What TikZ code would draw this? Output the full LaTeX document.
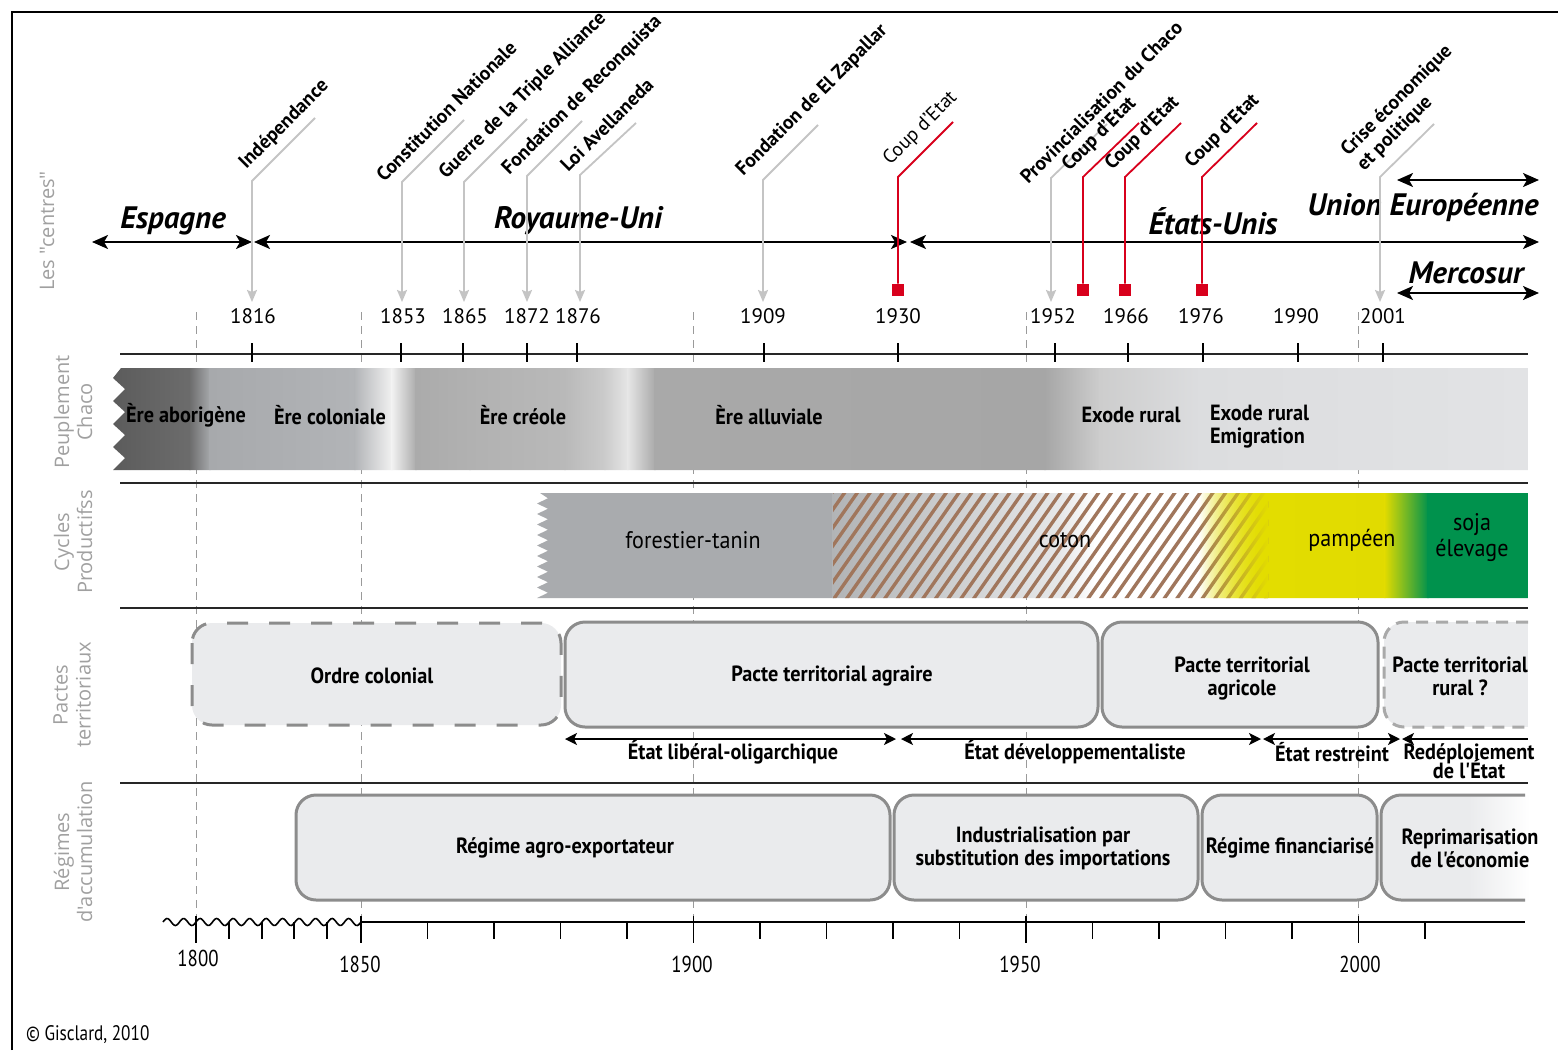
\documentclass[tikz,border=0pt]{standalone}
\usepackage{fontspec}
\setmainfont{PT Sans}
\newfontfamily\cond[FakeStretch=0.82]{PT Sans}
\newfontfamily\condw[FakeStretch=0.92]{PT Sans}
\newfontfamily\vlab{Open Sans}
\usetikzlibrary{arrows.meta,fadings}
\tikzfading[name=fadein, left color=transparent!100, right color=transparent!0]
\definecolor{evgray}{HTML}{C4C4C4}
\definecolor{evred}{HTML}{D8001C}
\definecolor{boxfill}{HTML}{EAEBED}
\definecolor{boxline}{HTML}{8C8C8C}
\definecolor{labgray}{HTML}{A0A0A0}
\definecolor{hatchbrown}{HTML}{A0765C}
\definecolor{dashgray}{HTML}{9A9A9A}
\definecolor{b0}{HTML}{5B5B5B}
\definecolor{b1}{HTML}{6C6C6C}
\definecolor{b2}{HTML}{A7A9AC}
\definecolor{b3}{HTML}{B2B4B7}
\definecolor{b4}{HTML}{F2F2F2}
\definecolor{b5}{HTML}{ABABAB}
\definecolor{b6}{HTML}{B1B1B1}
\definecolor{b7}{HTML}{B9B9B9}
\definecolor{b8}{HTML}{CBCBCB}
\definecolor{b9}{HTML}{E6E6E6}
\definecolor{b10}{HTML}{A9A9A9}
\definecolor{b11}{HTML}{A6A6A6}
\definecolor{b12}{HTML}{CDCDCD}
\definecolor{b13}{HTML}{DCDDDF}
\definecolor{b14}{HTML}{E2E3E5}
\definecolor{c0}{HTML}{A9ABAE}
\definecolor{c1}{HTML}{B2B4B6}
\definecolor{c2}{HTML}{E6E7E8}
\definecolor{c3}{HTML}{FFFFFF}
\definecolor{c4}{HTML}{E3DD00}
\definecolor{c5}{HTML}{E1DB00}
\definecolor{c6}{HTML}{00924D}
\tikzset{
  centre/.style={line width=1pt, >={Stealth[length=8pt,width=7pt,inset=2pt]}},
  bigit/.style={font=\fontsize{15.5}{17}\selectfont\bfseries\itshape},
  evline/.style={evgray, line width=0.9pt, -{Stealth[length=6pt,width=5pt,inset=1pt]}},
  redline/.style={evred, line width=0.9pt},
  redsq/.style={fill=evred, minimum size=6pt, inner sep=0pt},
  evlab/.style={rotate=45, anchor=base west, inner sep=0pt, font=\fontsize{9.8}{11}\selectfont\bfseries},
  evlabr/.style={evlab, font=\fontsize{9.8}{11}\selectfont},
  year/.style={font=\fontsize{10.5}{12}\selectfont},
  byear/.style={font=\cond\fontsize{11.5}{13}\selectfont},
  sepline/.style={line width=1.1pt, black!85},
  eralab/.style={font=\condw\bfseries\fontsize{11}{11.5}\selectfont, align=left},
  cyclab/.style={font=\condw\fontsize{12}{13}\selectfont, align=center},
  boxlab/.style={font=\condw\bfseries\fontsize{11}{11.5}\selectfont, align=center},
  vlabel/.style={rotate=90, text=labgray, align=center, font=\vlab\fontsize{10}{11.5}\selectfont},
  pbox/.style={draw=boxline, fill=boxfill, line width=1.5pt, rounded corners=10pt},
  dbox/.style={pbox, dash pattern=on 10.5pt off 10.5pt},
  statearr/.style={line width=0.75pt, >={Stealth[length=6pt,width=6pt,inset=1.5pt]}},
}
\begin{document}
\begin{tikzpicture}[x=0.5pt,y=-0.5pt]
\useasboundingbox (0,0) rectangle (1558,1050);
\fill[white] (0,0) rectangle (1558,1050);
% frame
\draw[line width=1pt] (12,1050) -- (12,12) -- (1558,12);

% dashed verticals
\foreach \x in {196,361,693,1026,1358}
  \draw[dashgray, line width=0.5pt, dash pattern=on 4pt off 3pt] (\x,312) -- (\x,922);

% ===== Band 1 : Peuplement =====
\begin{scope}
\clip (121,368) -- (1528,368) -- (1528,470) -- (113,470) -- (125,458) -- (113,447) -- (125,435) -- (113,424) -- (125,412) -- (113,401) -- (125,389) -- (113,378) -- (121,368) -- cycle;
\foreach \xa/\ca/\xb/\cb in {110/b0/190/b1, 190/b1/210/b2, 210/b2/355/b3, 355/b3/392/b4, 392/b4/416/b5, 416/b5/470/b6, 470/b6/565/b7, 565/b7/605/b8, 605/b8/628/b9, 628/b9/655/b10, 655/b10/1045/b11, 1045/b11/1100/b12, 1100/b12/1200/b13, 1200/b13/1530/b14}
  \shade[left color=\ca, right color=\cb] (\xa-0.6,360) rectangle (\xb+0.6,480);
\end{scope}
\node[eralab] (aborig) at (186,415) {Ère aborigène};
\node[eralab] (colon) at (330,415) {Ère coloniale};
\node[eralab] (creole) at (523,415) {Ère créole};
\node[eralab] (alluv) at (769,415) {Ère alluviale};
\node[eralab] (exode1) at (1131,415) {Exode rural};
\node[eralab, anchor=west] (exode2) at (1203,427) {Exode rural\\Emigration};

% ===== Band 2 : Cycles =====
\begin{scope}
\clip (540,493) -- (1528,493) -- (1528,598) -- (537,598) -- (548,592.75) -- (537,587.5) -- (548,582.25) -- (537,577) -- (548,571.75) -- (537,566.5) -- (548,561.25) -- (537,556) -- (548,550.75) -- (537,545.5) -- (548,540.25) -- (537,535) -- (548,529.75) -- (537,524.5) -- (548,519.25) -- (537,514) -- (548,508.75) -- (537,503.5) -- (548,498.25) -- (540,493) -- cycle;
\fill[c0] (530,485) rectangle (834,605);
\foreach \xa/\ca/\xb/\cb in {833/c1/1060/c2, 1060/c2/1095/c3, 1095/c3/1200/c3, 1200/c3/1265/c4, 1265/c4/1385/c5, 1385/c5/1428/c6, 1428/c6/1530/c6}
  \shade[left color=\ca, right color=\cb] (\xa-0.6,485) rectangle (\xb+0.6,605);
\begin{scope}
\clip (833,490) rectangle (1268,600);
\foreach \i in {-8,...,35}
  \draw[hatchbrown, line width=1.7pt] ({833+12.7*\i},600) -- ++(77,-110);
\end{scope}
\fill[c4, path fading=fadein] (1198,490) rectangle (1268,600);
\end{scope}
\node[cyclab] (forest) at (693,540) {forestier-tanin};
\node[cyclab] (coton) at (1065,540) {coton};
\node[cyclab] (pampa) at (1352,540) {pampéen};
\node[cyclab] (soja) at (1472,538) {soja\\élevage};

% ===== Band 3 : Pactes =====
\path[dbox] (192,623) rectangle (561,725);
\path[pbox] (565,622) rectangle (1098,727);
\path[pbox] (1102,622) rectangle (1378,727);
\fill[boxfill] (1400,622) rectangle (1528,727);
\fill[boxfill, rounded corners=10pt] (1384,622) rectangle (1430,727);
\draw[boxline!75, line width=1.5pt, dash pattern=on 6pt off 4pt, rounded corners=10pt] (1528,622) -- (1384,622) -- (1384,727) -- (1528,727);
\node[boxlab] (ordre) at (372,676) {Ordre colonial};
\node[boxlab] (agraire) at (832,676) {Pacte territorial agraire};
\node[boxlab] (agricole) at (1242,678) {Pacte territorial\\agricole};
\node[boxlab] (rural) at (1460,676) {Pacte territorial\\rural ?};

\coordinate (s1a) at (565,739); \coordinate (s1b) at (896,739);
\coordinate (s2a) at (901,739); \coordinate (s2b) at (1261,739);
\coordinate (s3a) at (1263,739); \coordinate (s3b) at (1400,739);
\coordinate (s4a) at (1402,739); \coordinate (s4b) at (1528,739);
\draw[statearr,<->] (s1a) -- (s1b);
\draw[statearr,<->] (s2a) -- (s2b);
\draw[statearr,<->] (s3a) -- (s3b);
\draw[statearr,<-] (s4a) -- (s4b);
\node[boxlab] (lib) at (733,752) {État libéral-oligarchique};
\node[boxlab] (dev) at (1075,752) {État développementaliste};
\node[boxlab] (restr) at (1332,752) {État restreint};
\node[boxlab] (redep) at (1469,761) {Redéploiement\\[-3.5pt]de l'État};

% ===== Band 4 : Régimes =====
\path[pbox] (296,795) rectangle (890,900);
\path[pbox] (894,795) rectangle (1198,900);
\path[pbox] (1202,795) rectangle (1377,900);
\fill[boxfill] (1400,795) rectangle (1470,900);
\fill[boxfill, rounded corners=10pt] (1381,795) rectangle (1430,900);
\shade[left color=boxfill, right color=white] (1469,795) rectangle (1530,900);
\draw[boxline, line width=1.5pt, rounded corners=10pt] (1525,795) -- (1381,795) -- (1381,900) -- (1525,900);
\node[boxlab] (agro) at (565,848) {Régime agro-exportateur};
\node[boxlab] (isi) at (1043,848) {Industrialisation par\\substitution des importations};
\node[boxlab] (fin) at (1290,848) {Régime financiarisé};
\node[boxlab] (repr) at (1470,848) {Reprimarisation\\de l'économie};

% ===== separators and axes =====
\draw[sepline] (120,354) -- (1528,354);
\draw[sepline] (120,483) -- (1528,483);
\draw[sepline] (120,608) -- (1528,608);
\draw[sepline] (120,783) -- (1528,783);
\foreach \x in {252,401,463,527,577,764,898,1055,1128,1203,1298,1383}
  \draw[line width=0.8pt] (\x,343) -- (\x,362);

% bottom axis
\draw[line width=1pt] (361,922) -- (1525,922);
\draw[line width=0.8pt, domain=0:198, samples=160, smooth, variable=\t] plot ({163+\t},{922-3.5*sin(\t*21.818)});
\foreach \x in {196,361,693.5,1026,1358.5}
  \draw[line width=0.8pt] (\x,916) -- (\x,943);
\foreach \x in {229,262,294,327,427.5,494,560.5,627,760,826.5,893,959.5,1092.5,1159,1225.5,1292,1425}
  \draw[line width=0.8pt] (\x,922) -- (\x,939);
\node[byear] (a1800) at (198,958) {1800};
\node[byear] (a1850) at (360,964) {1850};
\node[byear] (a1900) at (692,964) {1900};
\node[byear] (a1950) at (1020,964) {1950};
\node[byear] (a2000) at (1360,964) {2000};

% ===== years top =====
\foreach \n/\x in {1816/253,1853/403,1865/465,1872/527,1876/578,1909/763,1930/898,1952/1053,1966/1126,1976/1201,1990/1296,2001/1383}
  \node[year] (y\n) at (\x,316) {\n};

% ===== centres =====
\coordinate (esL) at (92,242); \coordinate (esR) at (252,242);
\coordinate (ruL) at (254,242); \coordinate (ruR) at (907,242);
\coordinate (usL) at (910,242); \coordinate (usR) at (1539,242);
\coordinate (ueL) at (1397,180); \coordinate (ueR) at (1539,180);
\coordinate (meL) at (1397,293); \coordinate (meR) at (1539,293);
\draw[centre,<->] (esL) -- (esR);
\draw[centre,<->] (ruL) -- (ruR);
\draw[centre,<->] (usL) -- (usR);
\draw[centre,<->] (ueL) -- (ueR);
\draw[centre,<->] (meL) -- (meR);
\node[bigit] (espagne) at (173,221) {Espagne};
\node[bigit] (ru) at (578,221) {Royaume-Uni};
\node[bigit] (us) at (1213,221) {États-Unis};
\node[bigit] (ue) at (1423,207) {Union Européenne};
\node[bigit] (merc) at (1466,273) {Mercosur};

% ===== events =====
\foreach \n/\x/\yt/\ex/\ey in {ind/252/181/315/118, con/402/182/464/120, gue/464/182/527/119, rec/527/176/582/121, ave/580/175/636/123, zap/763/180/818/125, pro/1051/178/1107/124, cri/1380/177/1434/124}{
  \coordinate (\n-t) at (\x,\yt);
  \coordinate (\n-e) at (\ex,\ey);
  \coordinate (\n-b) at (\x,302);
  \draw[evline] (\n-e) -- (\n-t) -- (\n-b);
}
\foreach \n/\x/\yt/\ex/\ey in {c30/898/177/953/122, c55/1083/177/1139/123, c66/1125/177/1181/123, c76/1202/177/1257/123}{
  \coordinate (\n-t) at (\x,\yt);
  \coordinate (\n-e) at (\ex,\ey);
  \node[redsq] (\n-sq) at (\x,290) {};
  \draw[redline] (\n-e) -- (\n-t) -- (\n-sq);
}
\node[evlab] (ind-l) at (246,170) {Indépendance};
\node[evlab] (con-l) at (384,183) {Constitution Nationale};
\node[evlab] (gue-l) at (446,180) {Guerre de la Triple Alliance};
\node[evlab] (rec-l) at (509,176) {Fondation de Reconquista};
\node[evlab] (ave-l) at (568,173) {Loi Avellaneda};
\node[evlab] (zap-l) at (743,177) {Fondation de El Zapallar};
\node[evlabr] (c30-l) at (890,166) {Coup d'Etat};
\node[evlab] (pro-l) at (1028,185) {Provincialisation du Chaco};
\node[evlab] (c55-l) at (1069,172) {Coup d'Etat};
\node[evlab] (c66-l) at (1112,171) {Coup d'Etat};
\node[evlab] (c76-l) at (1192,169) {Coup d'Etat};
\node[evlab] (cri-l1) at (1348,157) {Crise économique};
\node[evlab] (cri-l2) at (1364,172) {et politique};

% ===== vertical band labels =====
\node[vlabel] (lc) at (47,231) {Les "centres"};
\node[vlabel] (lp) at (73,412) {Peuplement\\Chaco};
\node[vlabel] (lcy) at (73,542) {Cycles\\Productifss};
\node[vlabel] (lpa) at (72,695) {Pactes\\territoriaux};
\node[vlabel] (lr) at (73,852) {Régimes\\d'accumulation};

\node[font=\cond\fontsize{10.5}{12}\selectfont, anchor=west] (copy) at (19,1035) {© Gisclard, 2010};
\end{tikzpicture}
\end{document}
